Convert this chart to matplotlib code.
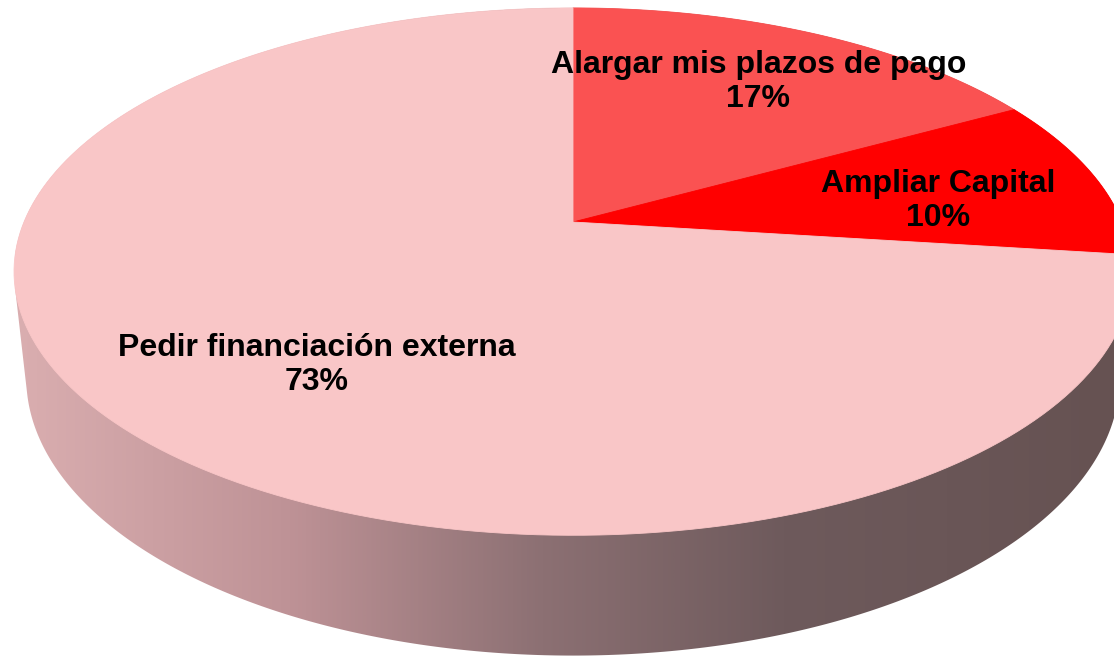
import numpy as np
import matplotlib
matplotlib.use("Agg")
import matplotlib.pyplot as plt
from matplotlib.patches import Polygon
from matplotlib.colors import LinearSegmentedColormap

# data
labels = ["Alargar mis plazos de pago", "Ampliar Capital", "Pedir financiación externa"]
shares = [17, 10, 73]
colors = ["#FA5252", "#FF0000", "#F9C6C7"]

# 3D view parameters (pixel space)
W, H = 1114, 661
CX, CY = 573, 222          # where the pie centre lands on screen
ELEV = np.radians(27.6)
DIST = 4.71                # camera distance in pie radii
FOCAL = 549 * DIST
THICK = 0.22               # pie thickness in radii


def project(X, Y, Z):
    depth = DIST + Y * np.cos(ELEV) - Z * np.sin(ELEV)
    up = Y * np.sin(ELEV) + Z * np.cos(ELEV)
    return CX + FOCAL * X / depth, CY - FOCAL * up / depth


def ring(phi, r=1.0, z=0.0):
    # phi measured clockwise from the back (12 o'clock)
    return project(r * np.sin(phi), r * np.cos(phi), z)


def hull(pts):
    pts = sorted(map(tuple, pts))
    def half(seq):
        out = []
        for p in seq:
            while len(out) >= 2 and ((out[-1][0] - out[-2][0]) * (p[1] - out[-2][1])
                                     - (out[-1][1] - out[-2][1]) * (p[0] - out[-2][0])) <= 0:
                out.pop()
            out.append(p)
        return out
    lower = half(pts)
    upper = half(pts[::-1])
    return np.array(lower[:-1] + upper[:-1])


fig = plt.figure(figsize=(W / 100, H / 100), dpi=100)
ax = fig.add_axes([0, 0, 1, 1])
ax.set_xlim(0, W)
ax.set_ylim(H, 0)
ax.axis("off")

# side wall: convex hull of top and bottom rims, filled with a horizontal gradient
t = np.linspace(0, 2 * np.pi, 721)
tx, ty = ring(t)
bx, by = ring(t, z=-THICK)
side = hull(np.column_stack([np.r_[tx, bx], np.r_[ty, by]]))
side_patch = Polygon(side, closed=True, facecolor="none", edgecolor="none")
ax.add_patch(side_patch)
side_cmap = LinearSegmentedColormap.from_list(
    "side", [(0.0, "#DAAEB0"), (0.25, "#BE9296"), (0.48, "#8C7073"),
             (0.7, "#6E5A5C"), (1.0, "#665252")])
grad = np.tile(np.linspace(0, 1, 512), (2, 1))
img = ax.imshow(grad, cmap=side_cmap, extent=[15, 1114, H, 0],
                aspect="auto", interpolation="bilinear", zorder=1)
img.set_clip_path(side_patch)

# top face slices
start = 0.0
mids = []
for share, col in zip(shares, colors):
    a0 = start / 100 * 2 * np.pi
    a1 = (start + share) / 100 * 2 * np.pi
    arc = np.linspace(a0, a1, 200)
    ax_, ay_ = ring(arc)
    cx0, cy0 = project(0, 0, 0)
    poly = np.column_stack([np.r_[cx0, ax_], np.r_[cy0, ay_]])
    ax.add_patch(Polygon(poly, closed=True, facecolor=col, edgecolor=col,
                         linewidth=0.6, zorder=2))
    mids.append((a0 + a1) / 2)
    start += share

# data labels
label_r = [0.69, 0.68, 0.62]
label_dx = [12, 7, 20]
label_dy = [-4, 11, 30]
for lab, share, m, r, dx, dy in zip(labels, shares, mids, label_r, label_dx, label_dy):
    lx, ly = ring(m, r=r)
    ax.text(lx + dx, ly + dy, f"{lab}\n{share}%", ha="center", va="center",
            fontsize=23, fontweight="bold", family="Liberation Sans",
            color="black", linespacing=1.17, zorder=3)

fig.savefig("out.png", dpi=100)
